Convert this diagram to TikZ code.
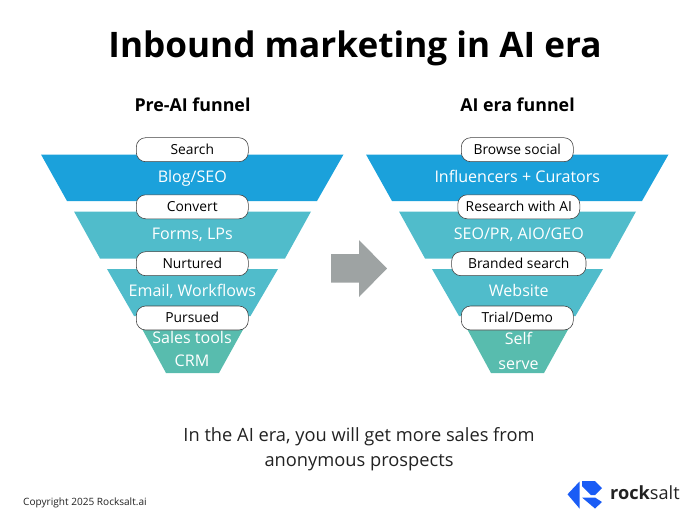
\documentclass[tikz,border=0pt]{standalone}
\usepackage{fontspec}
\setmainfont{Open Sans}
\usetikzlibrary{positioning}
\definecolor{topblue}{HTML}{1BA1DB}
\definecolor{midteal}{HTML}{50BCCB}
\definecolor{lowgreen}{HTML}{58BCAE}
\definecolor{arrowgray}{HTML}{9EA3A3}
\definecolor{logoblue}{HTML}{1A5CF5}
\definecolor{inkgray}{HTML}{222222}
\tikzset{
  pill/.style={draw=black!75, fill=white, rounded corners=8pt, line width=0.5pt, minimum height=0.72cm, font=\fontsize{11.8}{13}\selectfont, text=black, inner sep=0pt, text height=11pt, text depth=2.5pt},
  band/.style={text=white, inner sep=0pt, font=\fontsize{13.7}{15}\selectfont, text height=13pt, text depth=3pt},
  heading/.style={font=\fontsize{15.2}{18}\selectfont\bfseries, text=black},
  note/.style={font=\fontsize{15.6}{21.3}\selectfont, text=inkgray, align=center}
}
\begin{document}
\begin{tikzpicture}[x=0.03cm,y=-0.03cm,node distance=0.8cm,on grid]
\useasboundingbox (0,0) rectangle (700,525);

\node[font=\fontsize{30}{36}\selectfont\bfseries] (title) at (355,48) {Inbound marketing in AI era};
\node[heading] (prehead) at (192.5,105) {Pre-AI funnel};
\node[heading] (aihead) at (517.5,105) {AI era funnel};

% left funnel
\fill[topblue] (41,154.5) -- (343.5,154.5) -- (317,201) -- (67,201) -- cycle;
\fill[midteal] (74,211.5) -- (311,211.5) -- (285,258.5) -- (100,258.5) -- cycle;
\fill[midteal] (107,269) -- (278,269) -- (250.5,316) -- (134,316) -- cycle;
\fill[lowgreen] (140.5,326) -- (245,326) -- (219,373) -- (166,373) -- cycle;

% right funnel
\fill[topblue] (366,154.5) -- (668.5,154.5) -- (642,201) -- (392,201) -- cycle;
\fill[midteal] (399,211.5) -- (636,211.5) -- (610,258.5) -- (425,258.5) -- cycle;
\fill[midteal] (432,269) -- (603,269) -- (575.5,316) -- (459,316) -- cycle;
\fill[lowgreen] (465.5,326) -- (570,326) -- (544,373) -- (491,373) -- cycle;

\node[pill, minimum width=3.36cm] (search) at (192.3,149.7) {Search};
\node[band, below=of search] (blog) {Blog/SEO};
\node[pill, minimum width=3.36cm] (convert) at (192.3,206.8) {Convert};
\node[band, below=of convert] (forms) {Forms, LPs};
\node[pill, minimum width=3.36cm] (nurtured) at (192.3,263.7) {Nurtured};
\node[band, below=of nurtured] (email) {Email, Workflows};
\node[pill, minimum width=3.36cm] (pursued) at (192.3,318) {Pursued};
\node[band, align=center, text height=, text depth=, font=\fontsize{13.7}{19}\selectfont] (sales) at (192,349) {Sales tools\\CRM};

\node[pill, minimum width=3.36cm] (browse) at (517.3,149.7) {Browse social};
\node[band, below=of browse] (influencers) {Influencers + Curators};
\node[pill, minimum width=3.66cm] (research) at (518.8,206.8) {Research with AI};
\node[band, below=of research] (seo) {SEO/PR, AIO/GEO};
\node[pill, minimum width=4.03cm] (branded) at (518.8,263.7) {Branded search};
\node[band, below=of branded] (website) {Website};
\node[pill, minimum width=3.36cm] (trial) at (517.3,318) {Trial/Demo};
\node[band, align=center, text height=, text depth=, font=\fontsize{13.7}{22}\selectfont] (self) at (518.5,351) {Self\\serve};

% middle arrow
\fill[arrowgray] (331,254) -- (359,254) -- (359,240) -- (387,268.5) -- (359,297) -- (359,282.5) -- (331,282.5) -- cycle;

\node[note] (closing) at (359,449.5) {In the AI era, you will get more sales from\\anonymous prospects};
\node[anchor=west, inner sep=0pt, font=\fontsize{8.6}{10}\selectfont, text=inkgray] (copyright) at (23,503) {Copyright 2025 Rocksalt.ai};

% logo
\fill[logoblue] (567.5,494.3) -- (579.5,481.5) -- (579.5,508.5) -- cycle;
\fill[logoblue] (582,481) -- (595,481) -- (602,488) -- (595,495) -- (591,495) -- (582,486) -- cycle;
\fill[logoblue] (582,497.5) -- (595,497.5) -- (602,502) -- (595,508.5) -- cycle;
\node[anchor=west, inner sep=0pt, font=\fontsize{15.5}{18}\selectfont, text=inkgray] (rocksalt) at (610,493) {\textbf{rock}salt};
\end{tikzpicture}
\end{document}
